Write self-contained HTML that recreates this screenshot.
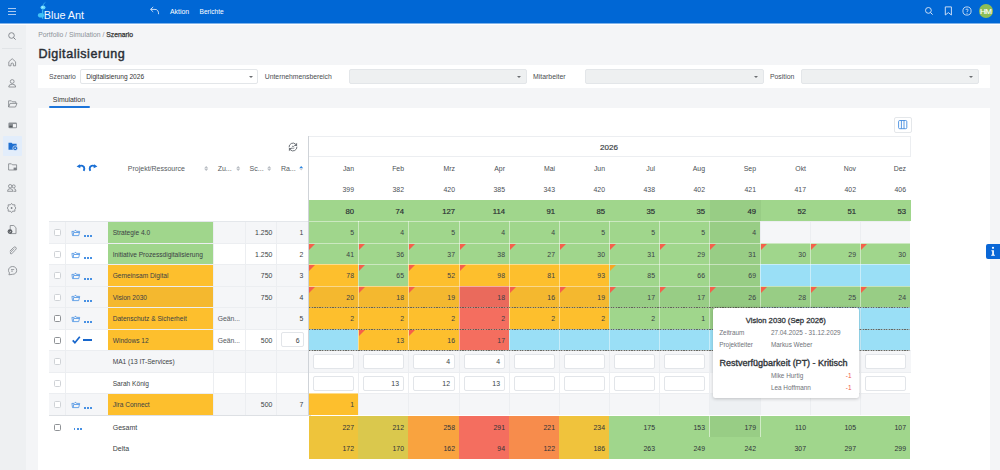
<!DOCTYPE html><html><head><meta charset="utf-8"><style>
*{margin:0;padding:0;box-sizing:border-box}
html,body{width:1000px;height:470px;overflow:hidden}
body{background:#f4f5f7;font-family:"Liberation Sans",sans-serif;color:#333;position:relative}
.a{position:absolute}
.t{position:absolute;white-space:nowrap;line-height:1}
.flag{position:absolute;width:0;height:0;border-top:6px solid #f5604b;border-right:6px solid transparent}
.inp{position:absolute;background:#fff;border:1px solid #e2e5e9;border-radius:2px}
.cb{position:absolute;width:6.8px;height:6.8px;border:1px solid #cfd2d6;border-radius:1.5px;background:#fff}
.cbd{border-color:#8f9296}
svg{position:absolute;overflow:visible}
</style></head><body><div class="a" style="left:0px;top:0px;width:1000px;height:23px;background:#0067d5;"></div>
<div class="a" style="left:0px;top:23px;width:1000px;height:1px;background:#80b3ea;"></div>
<div class="a" style="left:0px;top:24px;width:1000px;height:1px;background:#ffffff;"></div>
<div class="a" style="left:8px;top:7.6px;width:8px;height:0.9px;background:#a9c9f1;"></div>
<div class="a" style="left:8px;top:10.6px;width:8px;height:0.9px;background:#a9c9f1;"></div>
<div class="a" style="left:8px;top:13.6px;width:8px;height:0.9px;background:#a9c9f1;"></div>
<svg style="left:36px;top:1px" width="12" height="20" viewBox="0 0 12 20">
<path d="M7 5.2 C7.2 3.4 7.8 2.2 9.4 1.4" stroke="#3fb6f0" stroke-width="0.7" fill="none"/>
<ellipse cx="7" cy="6.5" rx="2.5" ry="2.1" fill="#63d6fc"/>
<circle cx="6.6" cy="6.2" r="0.9" fill="#a8ecff"/>
<path d="M6.6 8.4 L6.6 17.8" stroke="#3ab5ef" stroke-width="1.3"/>
<ellipse cx="5" cy="14.2" rx="3.1" ry="2.3" fill="#40c0f6"/>
</svg>
<div class="t" style="left:43.8px;top:10px;font-size:10.9px;color:#f4f9ff;letter-spacing:-0.05px">Blue Ant</div>
<svg style="left:149px;top:6px" width="11" height="9" viewBox="0 0 11 9"><path d="M1.6 3.4 H6 C8.6 3.4 9.6 5.2 9.6 8.2 M4.2 0.9 L1.6 3.4 L4.2 5.9" stroke="#dce8f8" stroke-width="0.9" fill="none"/></svg>
<div class="t" style="left:170px;top:9px;font-size:6.9px;color:#fff;">Aktion</div>
<div class="t" style="left:199.5px;top:9px;font-size:6.6px;color:#fff;">Berichte</div>
<svg style="left:924px;top:6px" width="10" height="10" viewBox="0 0 10 10"><circle cx="4.4" cy="4.4" r="2.9" stroke="#dfe9f7" stroke-width="0.9" fill="none"/><path d="M6.5 6.5 L8.6 8.6" stroke="#dfe9f7" stroke-width="1"/></svg>
<svg style="left:944px;top:6px" width="9" height="10" viewBox="0 0 9 10"><path d="M1.3 0.9 H7.4 V9 L4.35 6.6 L1.3 9 Z" stroke="#dfe9f7" stroke-width="0.9" fill="none" stroke-linejoin="round"/></svg>
<svg style="left:962px;top:6px" width="10" height="10" viewBox="0 0 10 10"><circle cx="5" cy="5" r="4.1" stroke="#dfe9f7" stroke-width="0.85" fill="none"/><path d="M3.8 4 C3.8 2.7 6.2 2.7 6.2 4 C6.2 4.9 5 5 5 6" stroke="#dfe9f7" stroke-width="0.8" fill="none"/><circle cx="5" cy="7.3" r="0.5" fill="#dfe9f7"/></svg>
<div class="a" style="left:978.8px;top:3.8px;width:14.4px;height:14.4px;border-radius:50%;background:#8dbd57"></div>
<div class="t" style="left:978.4px;top:8px;font-size:8.1px;color:#fff;width:14.4px;text-align:center;letter-spacing:-0.7px;-webkit-text-stroke:0.15px #fff">HM</div>
<div class="a" style="left:0px;top:25px;width:26px;height:445px;background:#eef0f2;"></div>
<div class="a" style="left:2px;top:48px;width:20px;height:1px;background:#e1e4e7;"></div>
<div class="a" style="left:2.7px;top:136.2px;width:19px;height:19.4px;background:#e2edfb;border-radius:1px"></div>
<svg style="left:8.1px;top:32.2px" width="10" height="10" viewBox="0 0 10 10"><circle cx="3.5" cy="3.5" r="2.8" stroke="#7d8187" stroke-width="0.9" fill="none"/><path d="M5.5 5.5 L7.6 7.6" stroke="#7d8187" stroke-width="1"/></svg>
<svg style="left:7.7px;top:58px" width="10" height="10" viewBox="0 0 10 10"><path d="M0.8 3.8 L4.2 0.7 L7.6 3.8 V7.8 H5.4 V5.6 Q4.2 4.4 3 5.6 V7.8 H0.8 Z" stroke="#7d8187" stroke-width="0.8" fill="none" stroke-linejoin="round"/></svg>
<svg style="left:7.7px;top:78.8px" width="10" height="10" viewBox="0 0 10 10"><circle cx="4.2" cy="2.5" r="1.9" stroke="#7d8187" stroke-width="0.8" fill="none"/><path d="M0.7 8 Q0.7 5.2 4.2 5.2 Q7.7 5.2 7.7 8 Z" stroke="#7d8187" stroke-width="0.8" fill="none"/></svg>
<svg style="left:7.5px;top:100.4px" width="10" height="10" viewBox="0 0 10 10"><path d="M0.6 7 V0.8 H3.4 L4.4 1.8 H7.8 V3.2 M0.6 7 L2.1 3.4 H9 L7.5 7 Z" stroke="#7d8187" stroke-width="0.8" fill="none" stroke-linejoin="round"/></svg>
<svg style="left:7.6px;top:121.6px" width="10" height="10" viewBox="0 0 10 10"><rect x="0.4" y="0.4" width="8.6" height="5.8" rx="1.3" fill="#8d9196"/><rect x="5" y="2.1" width="3.1" height="3.2" fill="#f4f5f7"/><rect x="1.3" y="3.7" width="3" height="1.6" fill="#55595e"/></svg>
<svg style="left:7.5px;top:141.9px" width="10" height="10" viewBox="0 0 10 10"><path d="M0.5 0.8 H3.6 L4.5 1.8 H8.6 V7.8 H0.5 Z" fill="#1f6fd0"/><circle cx="7.2" cy="6.2" r="2.4" fill="#1f6fd0" stroke="#e2edfb" stroke-width="0.7"/><circle cx="7.2" cy="6.2" r="0.8" fill="#e2edfb"/></svg>
<svg style="left:7.7px;top:163.2px" width="10" height="10" viewBox="0 0 10 10"><path d="M0.6 7 V0.8 H3.4 L4.4 1.8 H8.6 V7 Z" stroke="#7d8187" stroke-width="0.8" fill="none" stroke-linejoin="round"/><rect x="5.6" y="4.6" width="3" height="2.4" fill="#7d8187"/></svg>
<svg style="left:7.2px;top:184px" width="10" height="10" viewBox="0 0 10 10"><circle cx="3.2" cy="2.2" r="1.7" stroke="#7d8187" stroke-width="0.8" fill="none"/><path d="M0.5 7.3 Q0.5 4.7 3.2 4.7 Q5.9 4.7 5.9 7.3 Z" stroke="#7d8187" stroke-width="0.8" fill="none"/><circle cx="6.7" cy="2.4" r="1.5" stroke="#7d8187" stroke-width="0.8" fill="none"/><path d="M7 4.7 Q9 4.8 9 7.3 H6.5" stroke="#7d8187" stroke-width="0.8" fill="none"/></svg>
<svg style="left:7.2px;top:203.4px" width="10" height="10" viewBox="0 0 10 10"><path d="M4.6 0.4 L5.6 1.8 L7.9 1.8 L7.9 3.8 L9 5 L7.9 6.2 L7.9 8.2 L5.6 8.2 L4.6 9.6 L3.4 8.2 L1.2 8.2 L1.2 6.2 L0.2 5 L1.2 3.8 L1.2 1.8 L3.4 1.8 Z" stroke="#7d8187" stroke-width="0.8" fill="none" stroke-linejoin="round"/><circle cx="4.6" cy="5" r="0.9" fill="#7d8187"/></svg>
<svg style="left:6.7px;top:225px" width="10" height="10" viewBox="0 0 10 10"><path d="M3.2 0.5 H6.8 L9 2.7 V8.6 H3.2 Z" stroke="#7d8187" stroke-width="0.8" fill="none" stroke-linejoin="round"/><circle cx="3" cy="6.6" r="2.4" fill="#5a5e63"/><path d="M2 6.6 L2.8 7.4 L4.1 5.9" stroke="#fff" stroke-width="0.6" fill="none"/></svg>
<svg style="left:8.2px;top:246.3px" width="10" height="10" viewBox="0 0 10 10"><path d="M6.2 2.6 L2.8 6 Q1.8 7 2.5 7.6 Q3.2 8.2 4.2 7.2 L7.6 3.8 Q8.9 2.5 7.8 1.3 Q6.7 0.3 5.4 1.6 L1.8 5.2" stroke="#7d8187" stroke-width="0.8" fill="none"/></svg>
<svg style="left:7.5px;top:266.4px" width="10" height="10" viewBox="0 0 10 10"><path d="M4.6 0.5 C7 0.5 8.7 2.2 8.7 4.4 C8.7 6.6 7 8.3 4.6 8.3 L0.9 8.8 L1.5 6.9 C0.8 6.2 0.5 5.3 0.5 4.4 C0.5 2.2 2.2 0.5 4.6 0.5 Z" stroke="#7d8187" stroke-width="0.8" fill="none"/><path d="M3 3.5 H6.2 M3 5.1 H5" stroke="#7d8187" stroke-width="0.7"/></svg>
<div class="t" style="left:38.3px;top:32px;font-size:6.8px;color:#8d9298;">Portfolio / Simulation / <span style="color:#333;-webkit-text-stroke:0.25px #333">Szenario</span></div>
<div class="t" style="left:38.4px;top:48px;font-size:12.5px;color:#2a2e35;letter-spacing:0.55px;-webkit-text-stroke:0.45px #2a2e35">Digitalisierung</div>
<div class="a" style="left:38px;top:65px;width:952px;height:23px;background:#fff;"></div>
<div class="t" style="left:49px;top:74px;font-size:6.8px;color:#4a4d52;">Szenario</div>
<div class="a" style="left:80.2px;top:69.3px;width:178.3px;height:14.6px;background:#fff;border:1px solid #e3e6e9;border-radius:2px"></div>
<div class="a" style="left:248.7px;top:75.6px;width:0;height:0;border-left:2.2px solid transparent;border-right:2.2px solid transparent;border-top:2.2px solid #6a6d71"></div>
<div class="t" style="left:86.2px;top:74px;font-size:6.6px;color:#333;">Digitalisierung 2026</div>
<div class="t" style="left:264.8px;top:74px;font-size:6.8px;color:#4a4d52;">Unternehmensbereich</div>
<div class="a" style="left:349px;top:69.3px;width:178px;height:14.6px;background:#eef0f1;border:1px solid #e3e6e9;border-radius:2px"></div>
<div class="a" style="left:517.2px;top:75.6px;width:0;height:0;border-left:2.2px solid transparent;border-right:2.2px solid transparent;border-top:2.2px solid #6a6d71"></div>
<div class="t" style="left:533px;top:74px;font-size:6.9px;color:#4a4d52;">Mitarbeiter</div>
<div class="a" style="left:585px;top:69.3px;width:178.79999999999995px;height:14.6px;background:#eef0f1;border:1px solid #e3e6e9;border-radius:2px"></div>
<div class="a" style="left:754.0px;top:75.6px;width:0;height:0;border-left:2.2px solid transparent;border-right:2.2px solid transparent;border-top:2.2px solid #6a6d71"></div>
<div class="t" style="left:769.9px;top:74px;font-size:6.9px;color:#4a4d52;">Position</div>
<div class="a" style="left:801px;top:69.3px;width:178px;height:14.6px;background:#eef0f1;border:1px solid #e3e6e9;border-radius:2px"></div>
<div class="a" style="left:969.2px;top:75.6px;width:0;height:0;border-left:2.2px solid transparent;border-right:2.2px solid transparent;border-top:2.2px solid #6a6d71"></div>
<div class="t" style="left:52.8px;top:97px;font-size:6.9px;color:#333;">Simulation</div>
<div class="a" style="left:48.9px;top:106px;width:40.7px;height:2px;background:#1b74da;border-radius:1px"></div>
<div class="a" style="left:38px;top:107.6px;width:952px;height:363px;background:#fff;"></div>
<div class="a" style="left:986px;top:244px;width:14px;height:14.6px;background:#0a67d6;border-radius:2px 0 0 2px"></div>
<svg style="left:989px;top:246px" width="8" height="11" viewBox="0 0 8 11"><circle cx="4" cy="1.8" r="1.1" fill="#fff"/><path d="M2.4 4.2 H4.9 V8.8 H5.9 V9.8 H2.2 V8.8 H3.2 V5.2 H2.4 Z" fill="#fff"/></svg>
<div class="a" style="left:894px;top:117.2px;width:17.6px;height:15.4px;border:1px solid #e4e7ea;border-radius:2px;background:#fff"></div>
<svg style="left:897.8px;top:120.2px" width="10" height="10" viewBox="0 0 10 10"><rect x="0.6" y="0.5" width="8.2" height="8.2" rx="1.1" stroke="#3a86de" stroke-width="0.85" fill="none"/><path d="M3.4 0.5 V8.7 M6 0.5 V8.7" stroke="#3a86de" stroke-width="0.85"/></svg>
<svg style="left:287.8px;top:141.6px" width="10" height="10" viewBox="0 0 10 10"><path d="M1.1 5.3 A3.9 3.9 0 0 1 7.6 2.1 M8.9 4.7 A3.9 3.9 0 0 1 2.4 7.9" stroke="#6f747a" stroke-width="1" fill="none"/><path d="M9.1 0.7 V4.1 H5.7 Z M0.9 9.3 V5.9 H4.3 Z" fill="#6f747a"/><path d="M3.7 5.2 L5 3.9 L6.3 5.2" stroke="#6f747a" stroke-width="0.8" fill="none"/><path d="M3.8 6.2 H6.2" stroke="#6f747a" stroke-width="0.8"/></svg>
<div class="a" style="left:308px;top:136px;width:603px;height:1px;background:#eceef1;"></div>
<div class="a" style="left:910px;top:136px;width:1px;height:21px;background:#eceef1;"></div>
<div class="a" style="left:309px;top:156px;width:602px;height:1px;background:#eceef1;"></div>
<div class="a" style="left:308px;top:136px;width:1.2px;height:280px;background:#cfd3d8;"></div>
<div class="t" style="left:308px;top:144px;font-size:8.0px;color:#3a3e43;width:602px;text-align:center;-webkit-text-stroke:0.18px #3a3e43">2026</div>
<div class="t" style="left:308px;top:166px;font-size:6.9px;color:#4b4f55;width:46.0px;text-align:right;">Jan</div>
<div class="t" style="left:308px;top:187px;font-size:6.9px;color:#4b4f55;width:46.0px;text-align:right;">399</div>
<div class="t" style="left:358px;top:166px;font-size:6.9px;color:#4b4f55;width:46.0px;text-align:right;">Feb</div>
<div class="t" style="left:358px;top:187px;font-size:6.9px;color:#4b4f55;width:46.0px;text-align:right;">382</div>
<div class="t" style="left:408px;top:166px;font-size:6.9px;color:#4b4f55;width:47.0px;text-align:right;">Mrz</div>
<div class="t" style="left:408px;top:187px;font-size:6.9px;color:#4b4f55;width:47.0px;text-align:right;">420</div>
<div class="t" style="left:459px;top:166px;font-size:6.9px;color:#4b4f55;width:46.0px;text-align:right;">Apr</div>
<div class="t" style="left:459px;top:187px;font-size:6.9px;color:#4b4f55;width:46.0px;text-align:right;">385</div>
<div class="t" style="left:509px;top:166px;font-size:6.9px;color:#4b4f55;width:46.0px;text-align:right;">Mai</div>
<div class="t" style="left:509px;top:187px;font-size:6.9px;color:#4b4f55;width:46.0px;text-align:right;">343</div>
<div class="t" style="left:559px;top:166px;font-size:6.9px;color:#4b4f55;width:46.0px;text-align:right;">Jun</div>
<div class="t" style="left:559px;top:187px;font-size:6.9px;color:#4b4f55;width:46.0px;text-align:right;">420</div>
<div class="t" style="left:609px;top:166px;font-size:6.9px;color:#4b4f55;width:46.0px;text-align:right;">Jul</div>
<div class="t" style="left:609px;top:187px;font-size:6.9px;color:#4b4f55;width:46.0px;text-align:right;">438</div>
<div class="t" style="left:659px;top:166px;font-size:6.9px;color:#4b4f55;width:46.0px;text-align:right;">Aug</div>
<div class="t" style="left:659px;top:187px;font-size:6.9px;color:#4b4f55;width:46.0px;text-align:right;">402</div>
<div class="t" style="left:709px;top:166px;font-size:6.9px;color:#4b4f55;width:47.0px;text-align:right;">Sep</div>
<div class="t" style="left:709px;top:187px;font-size:6.9px;color:#4b4f55;width:47.0px;text-align:right;">421</div>
<div class="t" style="left:760px;top:166px;font-size:6.9px;color:#4b4f55;width:46.0px;text-align:right;">Okt</div>
<div class="t" style="left:760px;top:187px;font-size:6.9px;color:#4b4f55;width:46.0px;text-align:right;">417</div>
<div class="t" style="left:810px;top:166px;font-size:6.9px;color:#4b4f55;width:46.0px;text-align:right;">Nov</div>
<div class="t" style="left:810px;top:187px;font-size:6.9px;color:#4b4f55;width:46.0px;text-align:right;">402</div>
<div class="t" style="left:860px;top:166px;font-size:6.9px;color:#4b4f55;width:46.0px;text-align:right;">Dez</div>
<div class="t" style="left:860px;top:187px;font-size:6.9px;color:#4b4f55;width:46.0px;text-align:right;">406</div>
<div class="a" style="left:309px;top:200px;width:602px;height:21px;background:#a0d68c;"></div>
<div class="a" style="left:710px;top:200px;width:51px;height:21px;background:#98cd85;"></div>
<div class="t" style="left:308px;top:208px;font-size:7.7px;color:#2a2e33;width:46.0px;text-align:right;-webkit-text-stroke:0.18px #2a2e33">80</div>
<div class="t" style="left:358px;top:208px;font-size:7.7px;color:#2a2e33;width:46.0px;text-align:right;-webkit-text-stroke:0.18px #2a2e33">74</div>
<div class="t" style="left:408px;top:208px;font-size:7.7px;color:#2a2e33;width:47.0px;text-align:right;-webkit-text-stroke:0.18px #2a2e33">127</div>
<div class="t" style="left:459px;top:208px;font-size:7.7px;color:#2a2e33;width:46.0px;text-align:right;-webkit-text-stroke:0.18px #2a2e33">114</div>
<div class="t" style="left:509px;top:208px;font-size:7.7px;color:#2a2e33;width:46.0px;text-align:right;-webkit-text-stroke:0.18px #2a2e33">91</div>
<div class="t" style="left:559px;top:208px;font-size:7.7px;color:#2a2e33;width:46.0px;text-align:right;-webkit-text-stroke:0.18px #2a2e33">85</div>
<div class="t" style="left:609px;top:208px;font-size:7.7px;color:#2a2e33;width:46.0px;text-align:right;-webkit-text-stroke:0.18px #2a2e33">35</div>
<div class="t" style="left:659px;top:208px;font-size:7.7px;color:#2a2e33;width:46.0px;text-align:right;-webkit-text-stroke:0.18px #2a2e33">35</div>
<div class="t" style="left:709px;top:208px;font-size:7.7px;color:#2a2e33;width:47.0px;text-align:right;-webkit-text-stroke:0.18px #2a2e33">49</div>
<div class="t" style="left:760px;top:208px;font-size:7.7px;color:#2a2e33;width:46.0px;text-align:right;-webkit-text-stroke:0.18px #2a2e33">52</div>
<div class="t" style="left:810px;top:208px;font-size:7.7px;color:#2a2e33;width:46.0px;text-align:right;-webkit-text-stroke:0.18px #2a2e33">51</div>
<div class="t" style="left:860px;top:208px;font-size:7.7px;color:#2a2e33;width:46.0px;text-align:right;-webkit-text-stroke:0.18px #2a2e33">53</div>
<svg style="left:76px;top:163px" width="22" height="9" viewBox="0 0 22 9"><path d="M3.2 3.1 C5.2 2.1 8.3 2.6 8.3 5.6 C8.3 6.5 8 7.2 7.7 7.8" stroke="#1a6fd4" stroke-width="1.9" fill="none"/><path d="M0.6 3.6 L3.8 1.3 L4.4 5.2 Z" fill="#1a6fd4"/><path d="M18.8 3.1 C16.8 2.1 13.7 2.6 13.7 5.6 C13.7 6.5 14 7.2 14.3 7.8" stroke="#1a6fd4" stroke-width="1.9" fill="none"/><path d="M21.4 3.6 L18.2 1.3 L17.6 5.2 Z" fill="#1a6fd4"/></svg>
<div class="t" style="left:127.8px;top:165px;font-size:7.0px;color:#555a60;">Projekt/Ressource</div>
<svg style="left:204.20000000000002px;top:166.2px" width="5" height="5" viewBox="0 0 5 5"><path d="M0.2 2.2 L2.2 0 L4.2 2.2 Z M0.2 2.8 L2.2 5 L4.2 2.8 Z" fill="#b9bec4"/></svg>
<svg style="left:235.8px;top:166.2px" width="5" height="5" viewBox="0 0 5 5"><path d="M0.2 2.2 L2.2 0 L4.2 2.2 Z M0.2 2.8 L2.2 5 L4.2 2.8 Z" fill="#b9bec4"/></svg>
<svg style="left:267.2px;top:166.2px" width="5" height="5" viewBox="0 0 5 5"><path d="M0.2 2.2 L2.2 0 L4.2 2.2 Z M0.2 2.8 L2.2 5 L4.2 2.8 Z" fill="#b9bec4"/></svg>
<svg style="left:299.1px;top:166.2px" width="5" height="5" viewBox="0 0 5 5"><path d="M0.2 2.2 L2.2 0 L4.2 2.2 Z" fill="#2a84e0"/><path d="M0.6 2.8 L2.2 4.4 L3.8 2.8 Z" fill="#c9cdd2"/></svg>
<div class="t" style="left:217.7px;top:165px;font-size:7.0px;color:#555a60;">Zu...</div>
<div class="t" style="left:249.6px;top:165px;font-size:7.0px;color:#555a60;">Sc...</div>
<div class="t" style="left:280.9px;top:165px;font-size:7.0px;color:#555a60;">Ra...</div>
<div class="a" style="left:49px;top:221px;width:259px;height:1px;background:#e4e7eb;"></div>
<div class="a" style="left:49px;top:222px;width:259px;height:21px;background:#f5f6f8;"></div>
<div class="a" style="left:65px;top:222px;width:1px;height:21px;background:#eceef1;"></div>
<div class="a" style="left:213px;top:222px;width:1px;height:21px;background:#eceef1;"></div>
<div class="a" style="left:245px;top:222px;width:1px;height:21px;background:#eceef1;"></div>
<div class="a" style="left:276px;top:222px;width:1px;height:21px;background:#eceef1;"></div>
<div class="a" style="left:108px;top:222px;width:105px;height:21px;background:#a0d68c;"></div>
<div class="t" style="left:112.7px;top:230px;font-size:6.6px;color:#3b3f45;">Strategie 4.0</div>
<div class="t" style="left:245px;top:230px;font-size:6.9px;color:#3b3f45;width:27.3px;text-align:right;">1.250</div>
<div class="t" style="left:277px;top:230px;font-size:6.9px;color:#3b3f45;width:26.3px;text-align:right;">1</div>
<div class="cb" style="left:54.3px;top:229.1px"></div>
<svg style="left:69px;top:227px" width="14" height="11" viewBox="0 0 14 11"><path d="M2.9 4.4 H5.2 L6 3.4 H6.9 L7.5 4.4 H10.7 L9.7 8.6 H3.5 Z M4.3 8.4 L4.6 5.5 H10.3" stroke="#4790e3" stroke-width="0.8" fill="none" stroke-linejoin="round"/></svg>
<div class="a" style="left:84.0px;top:234.9px;width:1.8px;height:1.9px;background:#4790e3;"></div>
<div class="a" style="left:87.15px;top:234.9px;width:1.8px;height:1.9px;background:#4790e3;"></div>
<div class="a" style="left:90.3px;top:234.9px;width:1.8px;height:1.9px;background:#4790e3;"></div>
<div class="a" style="left:49px;top:243px;width:259px;height:1px;background:#eceef1;"></div>
<div class="a" style="left:49px;top:244px;width:259px;height:20px;background:#fff;"></div>
<div class="a" style="left:65px;top:244px;width:1px;height:20px;background:#eceef1;"></div>
<div class="a" style="left:213px;top:244px;width:1px;height:20px;background:#eceef1;"></div>
<div class="a" style="left:245px;top:244px;width:1px;height:20px;background:#eceef1;"></div>
<div class="a" style="left:276px;top:244px;width:1px;height:20px;background:#eceef1;"></div>
<div class="a" style="left:108px;top:244px;width:105px;height:20px;background:#a0d68c;"></div>
<div class="t" style="left:112.7px;top:252px;font-size:6.6px;color:#3b3f45;">Initiative Prozessdigitalisierung</div>
<div class="t" style="left:245px;top:252px;font-size:6.9px;color:#3b3f45;width:27.3px;text-align:right;">1.250</div>
<div class="t" style="left:277px;top:252px;font-size:6.9px;color:#3b3f45;width:26.3px;text-align:right;">2</div>
<div class="cb" style="left:54.3px;top:251.1px"></div>
<svg style="left:69px;top:249px" width="14" height="11" viewBox="0 0 14 11"><path d="M2.9 4.4 H5.2 L6 3.4 H6.9 L7.5 4.4 H10.7 L9.7 8.6 H3.5 Z M4.3 8.4 L4.6 5.5 H10.3" stroke="#4790e3" stroke-width="0.8" fill="none" stroke-linejoin="round"/></svg>
<div class="a" style="left:84.0px;top:256.9px;width:1.8px;height:1.9px;background:#4790e3;"></div>
<div class="a" style="left:87.15px;top:256.9px;width:1.8px;height:1.9px;background:#4790e3;"></div>
<div class="a" style="left:90.3px;top:256.9px;width:1.8px;height:1.9px;background:#4790e3;"></div>
<div class="a" style="left:49px;top:264px;width:259px;height:1px;background:#eceef1;"></div>
<div class="a" style="left:49px;top:265px;width:259px;height:21px;background:#f5f6f8;"></div>
<div class="a" style="left:65px;top:265px;width:1px;height:21px;background:#eceef1;"></div>
<div class="a" style="left:213px;top:265px;width:1px;height:21px;background:#eceef1;"></div>
<div class="a" style="left:245px;top:265px;width:1px;height:21px;background:#eceef1;"></div>
<div class="a" style="left:276px;top:265px;width:1px;height:21px;background:#eceef1;"></div>
<div class="a" style="left:108px;top:265px;width:105px;height:21px;background:#fdbf2d;"></div>
<div class="t" style="left:112.7px;top:273px;font-size:6.6px;color:#3b3f45;">Gemeinsam Digital</div>
<div class="t" style="left:245px;top:273px;font-size:6.9px;color:#3b3f45;width:27.3px;text-align:right;">750</div>
<div class="t" style="left:277px;top:273px;font-size:6.9px;color:#3b3f45;width:26.3px;text-align:right;">3</div>
<div class="cb" style="left:54.3px;top:272.1px"></div>
<svg style="left:69px;top:270px" width="14" height="11" viewBox="0 0 14 11"><path d="M2.9 4.4 H5.2 L6 3.4 H6.9 L7.5 4.4 H10.7 L9.7 8.6 H3.5 Z M4.3 8.4 L4.6 5.5 H10.3" stroke="#4790e3" stroke-width="0.8" fill="none" stroke-linejoin="round"/></svg>
<div class="a" style="left:84.0px;top:277.9px;width:1.8px;height:1.9px;background:#4790e3;"></div>
<div class="a" style="left:87.15px;top:277.9px;width:1.8px;height:1.9px;background:#4790e3;"></div>
<div class="a" style="left:90.3px;top:277.9px;width:1.8px;height:1.9px;background:#4790e3;"></div>
<div class="a" style="left:49px;top:286px;width:259px;height:1px;background:#eceef1;"></div>
<div class="a" style="left:49px;top:287px;width:259px;height:20px;background:#f5f6f8;"></div>
<div class="a" style="left:65px;top:287px;width:1px;height:20px;background:#eceef1;"></div>
<div class="a" style="left:213px;top:287px;width:1px;height:20px;background:#eceef1;"></div>
<div class="a" style="left:245px;top:287px;width:1px;height:20px;background:#eceef1;"></div>
<div class="a" style="left:276px;top:287px;width:1px;height:20px;background:#eceef1;"></div>
<div class="a" style="left:108px;top:287px;width:105px;height:20px;background:#f4b82f;"></div>
<div class="t" style="left:112.7px;top:295px;font-size:6.6px;color:#3b3f45;">Vision 2030</div>
<div class="t" style="left:245px;top:295px;font-size:6.9px;color:#3b3f45;width:27.3px;text-align:right;">750</div>
<div class="t" style="left:277px;top:295px;font-size:6.9px;color:#3b3f45;width:26.3px;text-align:right;">4</div>
<div class="cb" style="left:54.3px;top:294.1px"></div>
<svg style="left:69px;top:292px" width="14" height="11" viewBox="0 0 14 11"><path d="M2.9 4.4 H5.2 L6 3.4 H6.9 L7.5 4.4 H10.7 L9.7 8.6 H3.5 Z M4.3 8.4 L4.6 5.5 H10.3" stroke="#4790e3" stroke-width="0.8" fill="none" stroke-linejoin="round"/></svg>
<div class="a" style="left:84.0px;top:299.9px;width:1.8px;height:1.9px;background:#4790e3;"></div>
<div class="a" style="left:87.15px;top:299.9px;width:1.8px;height:1.9px;background:#4790e3;"></div>
<div class="a" style="left:90.3px;top:299.9px;width:1.8px;height:1.9px;background:#4790e3;"></div>
<div class="a" style="left:49px;top:307px;width:259px;height:1px;background:#eceef1;"></div>
<div class="a" style="left:49px;top:308px;width:259px;height:21px;background:#f5f6f8;"></div>
<div class="a" style="left:65px;top:308px;width:1px;height:21px;background:#eceef1;"></div>
<div class="a" style="left:213px;top:308px;width:1px;height:21px;background:#eceef1;"></div>
<div class="a" style="left:245px;top:308px;width:1px;height:21px;background:#eceef1;"></div>
<div class="a" style="left:276px;top:308px;width:1px;height:21px;background:#eceef1;"></div>
<div class="a" style="left:108px;top:308px;width:105px;height:21px;background:#fdbf2d;"></div>
<div class="t" style="left:112.7px;top:316px;font-size:6.6px;color:#3b3f45;">Datenschutz &amp; Sicherheit</div>
<div class="t" style="left:217.7px;top:316px;font-size:6.8px;color:#555a60;">Geän...</div>
<div class="t" style="left:277px;top:316px;font-size:6.9px;color:#3b3f45;width:26.3px;text-align:right;">5</div>
<div class="cb cbd" style="left:54.3px;top:315.1px"></div>
<svg style="left:69px;top:313px" width="14" height="11" viewBox="0 0 14 11"><path d="M2.9 4.4 H5.2 L6 3.4 H6.9 L7.5 4.4 H10.7 L9.7 8.6 H3.5 Z M4.3 8.4 L4.6 5.5 H10.3" stroke="#4790e3" stroke-width="0.8" fill="none" stroke-linejoin="round"/></svg>
<div class="a" style="left:84.0px;top:320.9px;width:1.8px;height:1.9px;background:#4790e3;"></div>
<div class="a" style="left:87.15px;top:320.9px;width:1.8px;height:1.9px;background:#4790e3;"></div>
<div class="a" style="left:90.3px;top:320.9px;width:1.8px;height:1.9px;background:#4790e3;"></div>
<div class="a" style="left:49px;top:329px;width:259px;height:1px;background:#eceef1;"></div>
<div class="a" style="left:49px;top:330px;width:259px;height:20px;background:#fff;"></div>
<div class="a" style="left:65px;top:330px;width:1px;height:20px;background:#eceef1;"></div>
<div class="a" style="left:213px;top:330px;width:1px;height:20px;background:#eceef1;"></div>
<div class="a" style="left:245px;top:330px;width:1px;height:20px;background:#eceef1;"></div>
<div class="a" style="left:276px;top:330px;width:1px;height:20px;background:#eceef1;"></div>
<div class="a" style="left:108px;top:330px;width:105px;height:20px;background:#fdbf2d;"></div>
<div class="t" style="left:112.7px;top:338px;font-size:6.6px;color:#3b3f45;">Windows 12</div>
<div class="t" style="left:217.7px;top:338px;font-size:6.8px;color:#555a60;">Geän...</div>
<div class="t" style="left:245px;top:338px;font-size:6.9px;color:#3b3f45;width:27.3px;text-align:right;">500</div>
<div class="inp" style="left:281px;top:332px;width:22.8px;height:15.4px"></div>
<div class="t" style="left:280px;top:338px;font-size:6.9px;color:#3b3f45;width:19.5px;text-align:right;">6</div>
<div class="cb cbd" style="left:54.3px;top:337.1px"></div>
<svg style="left:72px;top:336px" width="8.5" height="8" viewBox="0 0 8.5 8"><path d="M0.7 4.4 L2.9 6.7 L7.8 0.8" stroke="#1766cc" stroke-width="1.7" fill="none"/></svg>
<div class="a" style="left:83px;top:339.2px;width:8.6px;height:2.1px;background:#1766cc;"></div>
<div class="a" style="left:49px;top:350px;width:259px;height:1px;background:#eceef1;"></div>
<div class="a" style="left:49px;top:351px;width:259px;height:21px;background:#f5f6f8;"></div>
<div class="a" style="left:65px;top:351px;width:1px;height:21px;background:#eceef1;"></div>
<div class="a" style="left:213px;top:351px;width:1px;height:21px;background:#eceef1;"></div>
<div class="a" style="left:245px;top:351px;width:1px;height:21px;background:#eceef1;"></div>
<div class="a" style="left:276px;top:351px;width:1px;height:21px;background:#eceef1;"></div>
<div class="t" style="left:112.7px;top:359px;font-size:6.6px;color:#3b3f45;">MA1 (13 IT-Services)</div>
<div class="cb" style="left:54.3px;top:358.1px"></div>
<div class="a" style="left:49px;top:372px;width:259px;height:1px;background:#eceef1;"></div>
<div class="a" style="left:49px;top:373px;width:259px;height:20px;background:#fff;"></div>
<div class="a" style="left:65px;top:373px;width:1px;height:20px;background:#eceef1;"></div>
<div class="a" style="left:213px;top:373px;width:1px;height:20px;background:#eceef1;"></div>
<div class="a" style="left:245px;top:373px;width:1px;height:20px;background:#eceef1;"></div>
<div class="a" style="left:276px;top:373px;width:1px;height:20px;background:#eceef1;"></div>
<div class="t" style="left:112.7px;top:381px;font-size:6.6px;color:#3b3f45;">Sarah König</div>
<div class="cb" style="left:54.3px;top:380.1px"></div>
<div class="a" style="left:49px;top:393px;width:259px;height:1px;background:#eceef1;"></div>
<div class="a" style="left:49px;top:394px;width:259px;height:21px;background:#f5f6f8;"></div>
<div class="a" style="left:65px;top:394px;width:1px;height:21px;background:#eceef1;"></div>
<div class="a" style="left:213px;top:394px;width:1px;height:21px;background:#eceef1;"></div>
<div class="a" style="left:245px;top:394px;width:1px;height:21px;background:#eceef1;"></div>
<div class="a" style="left:276px;top:394px;width:1px;height:21px;background:#eceef1;"></div>
<div class="a" style="left:108px;top:394px;width:105px;height:21px;background:#fdbf2d;"></div>
<div class="t" style="left:112.7px;top:402px;font-size:6.6px;color:#3b3f45;">Jira Connect</div>
<div class="t" style="left:245px;top:402px;font-size:6.9px;color:#3b3f45;width:27.3px;text-align:right;">500</div>
<div class="t" style="left:277px;top:402px;font-size:6.9px;color:#3b3f45;width:26.3px;text-align:right;">7</div>
<div class="cb" style="left:54.3px;top:401.1px"></div>
<svg style="left:69px;top:399px" width="14" height="11" viewBox="0 0 14 11"><path d="M2.9 4.4 H5.2 L6 3.4 H6.9 L7.5 4.4 H10.7 L9.7 8.6 H3.5 Z M4.3 8.4 L4.6 5.5 H10.3" stroke="#4790e3" stroke-width="0.8" fill="none" stroke-linejoin="round"/></svg>
<div class="a" style="left:84.0px;top:406.9px;width:1.8px;height:1.9px;background:#4790e3;"></div>
<div class="a" style="left:87.15px;top:406.9px;width:1.8px;height:1.9px;background:#4790e3;"></div>
<div class="a" style="left:90.3px;top:406.9px;width:1.8px;height:1.9px;background:#4790e3;"></div>
<div class="a" style="left:49px;top:415px;width:262px;height:1.4px;background:#dde0e4;"></div>
<div class="cb cbd" style="left:54.3px;top:423.8px"></div>
<div class="a" style="left:73.6px;top:428.3px;width:1.8px;height:1.9px;background:#4790e3;"></div>
<div class="a" style="left:76.75px;top:428.3px;width:1.8px;height:1.9px;background:#4790e3;"></div>
<div class="a" style="left:79.89999999999999px;top:428.3px;width:1.8px;height:1.9px;background:#4790e3;"></div>
<div class="t" style="left:112.7px;top:424px;font-size:7.0px;color:#3b3f45;">Gesamt</div>
<div class="t" style="left:112.7px;top:445px;font-size:7.0px;color:#3b3f45;">Delta</div>
<div class="a" style="left:309px;top:221px;width:49px;height:22px;background:#a0d68c;"></div>
<div class="t" style="left:308px;top:230px;font-size:6.9px;color:#3b3f45;width:46px;text-align:right;">5</div>
<div class="a" style="left:358px;top:221px;width:50px;height:22px;background:#a0d68c;"></div>
<div class="t" style="left:358px;top:230px;font-size:6.9px;color:#3b3f45;width:46px;text-align:right;">4</div>
<div class="a" style="left:408px;top:221px;width:51px;height:22px;background:#a0d68c;"></div>
<div class="t" style="left:408px;top:230px;font-size:6.9px;color:#3b3f45;width:47px;text-align:right;">5</div>
<div class="a" style="left:459px;top:221px;width:50px;height:22px;background:#a0d68c;"></div>
<div class="t" style="left:459px;top:230px;font-size:6.9px;color:#3b3f45;width:46px;text-align:right;">4</div>
<div class="a" style="left:509px;top:221px;width:50px;height:22px;background:#a0d68c;"></div>
<div class="t" style="left:509px;top:230px;font-size:6.9px;color:#3b3f45;width:46px;text-align:right;">4</div>
<div class="a" style="left:559px;top:221px;width:50px;height:22px;background:#a0d68c;"></div>
<div class="t" style="left:559px;top:230px;font-size:6.9px;color:#3b3f45;width:46px;text-align:right;">5</div>
<div class="a" style="left:609px;top:221px;width:50px;height:22px;background:#a0d68c;"></div>
<div class="t" style="left:609px;top:230px;font-size:6.9px;color:#3b3f45;width:46px;text-align:right;">5</div>
<div class="a" style="left:659px;top:221px;width:50px;height:22px;background:#a0d68c;"></div>
<div class="t" style="left:659px;top:230px;font-size:6.9px;color:#3b3f45;width:46px;text-align:right;">5</div>
<div class="a" style="left:709px;top:221px;width:51px;height:22px;background:#98cd85;"></div>
<div class="t" style="left:709px;top:230px;font-size:6.9px;color:#3b3f45;width:47px;text-align:right;">4</div>
<div class="a" style="left:760px;top:221px;width:50px;height:22px;background:#f5f6f8;"></div>
<div class="a" style="left:810px;top:221px;width:50px;height:22px;background:#f5f6f8;"></div>
<div class="a" style="left:860px;top:221px;width:50px;height:22px;background:#f5f6f8;"></div>
<div class="a" style="left:309px;top:243px;width:49px;height:21px;background:#a0d68c;"></div>
<div class="flag" style="left:309px;top:244px;border-top-color:#f5604b"></div>
<div class="t" style="left:308px;top:252px;font-size:6.9px;color:#3b3f45;width:46px;text-align:right;">41</div>
<div class="a" style="left:358px;top:243px;width:50px;height:21px;background:#a0d68c;"></div>
<div class="flag" style="left:359px;top:244px;border-top-color:#f5604b"></div>
<div class="t" style="left:358px;top:252px;font-size:6.9px;color:#3b3f45;width:46px;text-align:right;">36</div>
<div class="a" style="left:408px;top:243px;width:51px;height:21px;background:#a0d68c;"></div>
<div class="flag" style="left:409px;top:244px;border-top-color:#f5604b"></div>
<div class="t" style="left:408px;top:252px;font-size:6.9px;color:#3b3f45;width:47px;text-align:right;">37</div>
<div class="a" style="left:459px;top:243px;width:50px;height:21px;background:#a0d68c;"></div>
<div class="flag" style="left:460px;top:244px;border-top-color:#f5604b"></div>
<div class="t" style="left:459px;top:252px;font-size:6.9px;color:#3b3f45;width:46px;text-align:right;">38</div>
<div class="a" style="left:509px;top:243px;width:50px;height:21px;background:#a0d68c;"></div>
<div class="flag" style="left:510px;top:244px;border-top-color:#f5604b"></div>
<div class="t" style="left:509px;top:252px;font-size:6.9px;color:#3b3f45;width:46px;text-align:right;">27</div>
<div class="a" style="left:559px;top:243px;width:50px;height:21px;background:#a0d68c;"></div>
<div class="flag" style="left:560px;top:244px;border-top-color:#f5604b"></div>
<div class="t" style="left:559px;top:252px;font-size:6.9px;color:#3b3f45;width:46px;text-align:right;">30</div>
<div class="a" style="left:609px;top:243px;width:50px;height:21px;background:#a0d68c;"></div>
<div class="flag" style="left:610px;top:244px;border-top-color:#f5604b"></div>
<div class="t" style="left:609px;top:252px;font-size:6.9px;color:#3b3f45;width:46px;text-align:right;">31</div>
<div class="a" style="left:659px;top:243px;width:50px;height:21px;background:#a0d68c;"></div>
<div class="flag" style="left:660px;top:244px;border-top-color:#f5604b"></div>
<div class="t" style="left:659px;top:252px;font-size:6.9px;color:#3b3f45;width:46px;text-align:right;">29</div>
<div class="a" style="left:709px;top:243px;width:51px;height:21px;background:#98cd85;"></div>
<div class="flag" style="left:710px;top:244px;border-top-color:#f5604b"></div>
<div class="t" style="left:709px;top:252px;font-size:6.9px;color:#3b3f45;width:47px;text-align:right;">31</div>
<div class="a" style="left:760px;top:243px;width:50px;height:21px;background:#a0d68c;"></div>
<div class="flag" style="left:761px;top:244px;border-top-color:#f5604b"></div>
<div class="t" style="left:760px;top:252px;font-size:6.9px;color:#3b3f45;width:46px;text-align:right;">30</div>
<div class="a" style="left:810px;top:243px;width:50px;height:21px;background:#a0d68c;"></div>
<div class="flag" style="left:811px;top:244px;border-top-color:#f5604b"></div>
<div class="t" style="left:810px;top:252px;font-size:6.9px;color:#3b3f45;width:46px;text-align:right;">29</div>
<div class="a" style="left:860px;top:243px;width:50px;height:21px;background:#a0d68c;"></div>
<div class="flag" style="left:861px;top:244px;border-top-color:#f5604b"></div>
<div class="t" style="left:860px;top:252px;font-size:6.9px;color:#3b3f45;width:46px;text-align:right;">30</div>
<div class="a" style="left:309px;top:264px;width:49px;height:22px;background:#fdbf2d;"></div>
<div class="flag" style="left:309px;top:265px;border-top-color:#f5604b"></div>
<div class="t" style="left:308px;top:273px;font-size:6.9px;color:#3b3f45;width:46px;text-align:right;">78</div>
<div class="a" style="left:358px;top:264px;width:50px;height:22px;background:#a0d68c;"></div>
<div class="flag" style="left:359px;top:265px;border-top-color:#f5604b"></div>
<div class="t" style="left:358px;top:273px;font-size:6.9px;color:#3b3f45;width:46px;text-align:right;">65</div>
<div class="a" style="left:408px;top:264px;width:51px;height:22px;background:#fdbf2d;"></div>
<div class="flag" style="left:409px;top:265px;border-top-color:#f5604b"></div>
<div class="t" style="left:408px;top:273px;font-size:6.9px;color:#3b3f45;width:47px;text-align:right;">52</div>
<div class="a" style="left:459px;top:264px;width:50px;height:22px;background:#fdbf2d;"></div>
<div class="flag" style="left:460px;top:265px;border-top-color:#f5604b"></div>
<div class="t" style="left:459px;top:273px;font-size:6.9px;color:#3b3f45;width:46px;text-align:right;">98</div>
<div class="a" style="left:509px;top:264px;width:50px;height:22px;background:#fdbf2d;"></div>
<div class="t" style="left:509px;top:273px;font-size:6.9px;color:#3b3f45;width:46px;text-align:right;">81</div>
<div class="a" style="left:559px;top:264px;width:50px;height:22px;background:#fdbf2d;"></div>
<div class="t" style="left:559px;top:273px;font-size:6.9px;color:#3b3f45;width:46px;text-align:right;">93</div>
<div class="a" style="left:609px;top:264px;width:50px;height:22px;background:#a0d68c;"></div>
<div class="flag" style="left:610px;top:265px;border-top-color:#f7a623"></div>
<div class="t" style="left:609px;top:273px;font-size:6.9px;color:#3b3f45;width:46px;text-align:right;">85</div>
<div class="a" style="left:659px;top:264px;width:50px;height:22px;background:#a0d68c;"></div>
<div class="t" style="left:659px;top:273px;font-size:6.9px;color:#3b3f45;width:46px;text-align:right;">66</div>
<div class="a" style="left:709px;top:264px;width:51px;height:22px;background:#98cd85;"></div>
<div class="t" style="left:709px;top:273px;font-size:6.9px;color:#3b3f45;width:47px;text-align:right;">69</div>
<div class="a" style="left:760px;top:264px;width:50px;height:22px;background:#9adff6;"></div>
<div class="a" style="left:810px;top:264px;width:50px;height:22px;background:#9adff6;"></div>
<div class="a" style="left:860px;top:264px;width:50px;height:22px;background:#9adff6;"></div>
<div class="a" style="left:309px;top:286px;width:49px;height:21px;background:#f4b82f;"></div>
<div class="flag" style="left:309px;top:287px;border-top-color:#f5604b"></div>
<div class="t" style="left:308px;top:295px;font-size:6.9px;color:#3b3f45;width:46px;text-align:right;">20</div>
<div class="a" style="left:358px;top:286px;width:50px;height:21px;background:#f4b82f;"></div>
<div class="flag" style="left:359px;top:287px;border-top-color:#f5604b"></div>
<div class="t" style="left:358px;top:295px;font-size:6.9px;color:#3b3f45;width:46px;text-align:right;">18</div>
<div class="a" style="left:408px;top:286px;width:51px;height:21px;background:#f4b82f;"></div>
<div class="flag" style="left:409px;top:287px;border-top-color:#f5604b"></div>
<div class="t" style="left:408px;top:295px;font-size:6.9px;color:#3b3f45;width:47px;text-align:right;">19</div>
<div class="a" style="left:459px;top:286px;width:50px;height:21px;background:#ea6a5c;"></div>
<div class="t" style="left:459px;top:295px;font-size:6.9px;color:#3b3f45;width:46px;text-align:right;">18</div>
<div class="a" style="left:509px;top:286px;width:50px;height:21px;background:#f4b82f;"></div>
<div class="flag" style="left:510px;top:287px;border-top-color:#f5604b"></div>
<div class="t" style="left:509px;top:295px;font-size:6.9px;color:#3b3f45;width:46px;text-align:right;">16</div>
<div class="a" style="left:559px;top:286px;width:50px;height:21px;background:#f4b82f;"></div>
<div class="flag" style="left:560px;top:287px;border-top-color:#f5604b"></div>
<div class="t" style="left:559px;top:295px;font-size:6.9px;color:#3b3f45;width:46px;text-align:right;">19</div>
<div class="a" style="left:609px;top:286px;width:50px;height:21px;background:#98cd85;"></div>
<div class="flag" style="left:610px;top:287px;border-top-color:#f5604b"></div>
<div class="t" style="left:609px;top:295px;font-size:6.9px;color:#3b3f45;width:46px;text-align:right;">17</div>
<div class="a" style="left:659px;top:286px;width:50px;height:21px;background:#98cd85;"></div>
<div class="flag" style="left:660px;top:287px;border-top-color:#f5604b"></div>
<div class="t" style="left:659px;top:295px;font-size:6.9px;color:#3b3f45;width:46px;text-align:right;">17</div>
<div class="a" style="left:709px;top:286px;width:51px;height:21px;background:#93c880;"></div>
<div class="flag" style="left:710px;top:287px;border-top-color:#f5604b"></div>
<div class="t" style="left:709px;top:295px;font-size:6.9px;color:#3b3f45;width:47px;text-align:right;">26</div>
<div class="a" style="left:760px;top:286px;width:50px;height:21px;background:#98cd85;"></div>
<div class="flag" style="left:761px;top:287px;border-top-color:#f5604b"></div>
<div class="t" style="left:760px;top:295px;font-size:6.9px;color:#3b3f45;width:46px;text-align:right;">28</div>
<div class="a" style="left:810px;top:286px;width:50px;height:21px;background:#98cd85;"></div>
<div class="flag" style="left:811px;top:287px;border-top-color:#f5604b"></div>
<div class="t" style="left:810px;top:295px;font-size:6.9px;color:#3b3f45;width:46px;text-align:right;">25</div>
<div class="a" style="left:860px;top:286px;width:50px;height:21px;background:#98cd85;"></div>
<div class="flag" style="left:861px;top:287px;border-top-color:#f5604b"></div>
<div class="t" style="left:860px;top:295px;font-size:6.9px;color:#3b3f45;width:46px;text-align:right;">24</div>
<div class="a" style="left:309px;top:307px;width:49px;height:22px;background:#fdbf2d;"></div>
<div class="t" style="left:308px;top:316px;font-size:6.9px;color:#3b3f45;width:46px;text-align:right;">2</div>
<div class="a" style="left:358px;top:307px;width:50px;height:22px;background:#fdbf2d;"></div>
<div class="t" style="left:358px;top:316px;font-size:6.9px;color:#3b3f45;width:46px;text-align:right;">2</div>
<div class="a" style="left:408px;top:307px;width:51px;height:22px;background:#fdbf2d;"></div>
<div class="t" style="left:408px;top:316px;font-size:6.9px;color:#3b3f45;width:47px;text-align:right;">2</div>
<div class="a" style="left:459px;top:307px;width:50px;height:22px;background:#f46e5f;"></div>
<div class="t" style="left:459px;top:316px;font-size:6.9px;color:#3b3f45;width:46px;text-align:right;">2</div>
<div class="a" style="left:509px;top:307px;width:50px;height:22px;background:#fdbf2d;"></div>
<div class="t" style="left:509px;top:316px;font-size:6.9px;color:#3b3f45;width:46px;text-align:right;">2</div>
<div class="a" style="left:559px;top:307px;width:50px;height:22px;background:#fdbf2d;"></div>
<div class="t" style="left:559px;top:316px;font-size:6.9px;color:#3b3f45;width:46px;text-align:right;">2</div>
<div class="a" style="left:609px;top:307px;width:50px;height:22px;background:#a0d68c;"></div>
<div class="t" style="left:609px;top:316px;font-size:6.9px;color:#3b3f45;width:46px;text-align:right;">2</div>
<div class="a" style="left:659px;top:307px;width:50px;height:22px;background:#a0d68c;"></div>
<div class="t" style="left:659px;top:316px;font-size:6.9px;color:#3b3f45;width:46px;text-align:right;">1</div>
<div class="a" style="left:709px;top:307px;width:51px;height:22px;background:#98cd85;"></div>
<div class="a" style="left:760px;top:307px;width:50px;height:22px;background:#9adff6;"></div>
<div class="a" style="left:810px;top:307px;width:50px;height:22px;background:#9adff6;"></div>
<div class="a" style="left:860px;top:307px;width:50px;height:22px;background:#9adff6;"></div>
<div class="a" style="left:309px;top:329px;width:49px;height:21px;background:#9adff6;"></div>
<div class="a" style="left:358px;top:329px;width:50px;height:21px;background:#fdbf2d;"></div>
<div class="flag" style="left:359px;top:330px;border-top-color:#f5604b"></div>
<div class="t" style="left:358px;top:338px;font-size:6.9px;color:#3b3f45;width:46px;text-align:right;">13</div>
<div class="a" style="left:408px;top:329px;width:51px;height:21px;background:#fdbf2d;"></div>
<div class="flag" style="left:409px;top:330px;border-top-color:#f5604b"></div>
<div class="t" style="left:408px;top:338px;font-size:6.9px;color:#3b3f45;width:47px;text-align:right;">16</div>
<div class="a" style="left:459px;top:329px;width:50px;height:21px;background:#f46e5f;"></div>
<div class="t" style="left:459px;top:338px;font-size:6.9px;color:#3b3f45;width:46px;text-align:right;">17</div>
<div class="a" style="left:509px;top:329px;width:50px;height:21px;background:#9adff6;"></div>
<div class="a" style="left:559px;top:329px;width:50px;height:21px;background:#9adff6;"></div>
<div class="a" style="left:609px;top:329px;width:50px;height:21px;background:#9adff6;"></div>
<div class="a" style="left:659px;top:329px;width:50px;height:21px;background:#9adff6;"></div>
<div class="a" style="left:709px;top:329px;width:51px;height:21px;background:#9adff6;"></div>
<div class="a" style="left:760px;top:329px;width:50px;height:21px;background:#9adff6;"></div>
<div class="a" style="left:810px;top:329px;width:50px;height:21px;background:#9adff6;"></div>
<div class="a" style="left:860px;top:329px;width:50px;height:21px;background:#9adff6;"></div>
<div class="a" style="left:309px;top:350px;width:50px;height:1px;background:#eceef1;"></div>
<div class="a" style="left:309px;top:351px;width:49px;height:21px;background:#f5f6f8;"></div>
<div class="inp" style="left:312.8px;top:353.8px;width:41.4px;height:14.8px"></div>
<div class="a" style="left:359px;top:350px;width:50px;height:1px;background:#eceef1;"></div>
<div class="a" style="left:358px;top:351px;width:1px;height:21px;background:#eceef1;"></div>
<div class="a" style="left:359px;top:351px;width:49px;height:21px;background:#f5f6f8;"></div>
<div class="inp" style="left:362.8px;top:353.8px;width:41.4px;height:14.8px"></div>
<div class="a" style="left:409px;top:350px;width:51px;height:1px;background:#eceef1;"></div>
<div class="a" style="left:408px;top:351px;width:1px;height:21px;background:#eceef1;"></div>
<div class="a" style="left:409px;top:351px;width:50px;height:21px;background:#f5f6f8;"></div>
<div class="inp" style="left:412.8px;top:353.8px;width:42.4px;height:14.8px"></div>
<div class="t" style="left:408px;top:359px;font-size:6.9px;color:#3b3f45;width:42px;text-align:right;">4</div>
<div class="a" style="left:460px;top:350px;width:50px;height:1px;background:#eceef1;"></div>
<div class="a" style="left:459px;top:351px;width:1px;height:21px;background:#eceef1;"></div>
<div class="a" style="left:460px;top:351px;width:49px;height:21px;background:#f5f6f8;"></div>
<div class="inp" style="left:463.8px;top:353.8px;width:41.4px;height:14.8px"></div>
<div class="t" style="left:459px;top:359px;font-size:6.9px;color:#3b3f45;width:41px;text-align:right;">4</div>
<div class="a" style="left:510px;top:350px;width:50px;height:1px;background:#eceef1;"></div>
<div class="a" style="left:509px;top:351px;width:1px;height:21px;background:#eceef1;"></div>
<div class="a" style="left:510px;top:351px;width:49px;height:21px;background:#f5f6f8;"></div>
<div class="inp" style="left:513.8px;top:353.8px;width:41.4px;height:14.8px"></div>
<div class="a" style="left:560px;top:350px;width:50px;height:1px;background:#eceef1;"></div>
<div class="a" style="left:559px;top:351px;width:1px;height:21px;background:#eceef1;"></div>
<div class="a" style="left:560px;top:351px;width:49px;height:21px;background:#f5f6f8;"></div>
<div class="inp" style="left:563.8px;top:353.8px;width:41.4px;height:14.8px"></div>
<div class="a" style="left:610px;top:350px;width:50px;height:1px;background:#eceef1;"></div>
<div class="a" style="left:609px;top:351px;width:1px;height:21px;background:#eceef1;"></div>
<div class="a" style="left:610px;top:351px;width:49px;height:21px;background:#f5f6f8;"></div>
<div class="inp" style="left:613.8px;top:353.8px;width:41.4px;height:14.8px"></div>
<div class="a" style="left:660px;top:350px;width:50px;height:1px;background:#eceef1;"></div>
<div class="a" style="left:659px;top:351px;width:1px;height:21px;background:#eceef1;"></div>
<div class="a" style="left:660px;top:351px;width:49px;height:21px;background:#f5f6f8;"></div>
<div class="inp" style="left:663.8px;top:353.8px;width:41.4px;height:14.8px"></div>
<div class="a" style="left:710px;top:350px;width:51px;height:1px;background:#eceef1;"></div>
<div class="a" style="left:709px;top:351px;width:1px;height:21px;background:#eceef1;"></div>
<div class="a" style="left:710px;top:351px;width:50px;height:21px;background:#eceff2;"></div>
<div class="inp" style="left:713.8px;top:353.8px;width:42.4px;height:14.8px"></div>
<div class="a" style="left:761px;top:350px;width:50px;height:1px;background:#eceef1;"></div>
<div class="a" style="left:760px;top:351px;width:1px;height:21px;background:#eceef1;"></div>
<div class="a" style="left:761px;top:351px;width:49px;height:21px;background:#f5f6f8;"></div>
<div class="inp" style="left:764.8px;top:353.8px;width:41.4px;height:14.8px"></div>
<div class="a" style="left:811px;top:350px;width:50px;height:1px;background:#eceef1;"></div>
<div class="a" style="left:810px;top:351px;width:1px;height:21px;background:#eceef1;"></div>
<div class="a" style="left:811px;top:351px;width:49px;height:21px;background:#f5f6f8;"></div>
<div class="inp" style="left:814.8px;top:353.8px;width:41.4px;height:14.8px"></div>
<div class="a" style="left:861px;top:350px;width:50px;height:1px;background:#eceef1;"></div>
<div class="a" style="left:860px;top:351px;width:1px;height:21px;background:#eceef1;"></div>
<div class="a" style="left:861px;top:351px;width:50px;height:21px;background:#f5f6f8;"></div>
<div class="inp" style="left:864.8px;top:353.8px;width:41.4px;height:14.8px"></div>
<div class="a" style="left:309px;top:372px;width:50px;height:1px;background:#eceef1;"></div>
<div class="a" style="left:309px;top:373px;width:49px;height:20px;background:#fff;"></div>
<div class="inp" style="left:312.8px;top:375.8px;width:41.4px;height:14.8px"></div>
<div class="a" style="left:359px;top:372px;width:50px;height:1px;background:#eceef1;"></div>
<div class="a" style="left:358px;top:373px;width:1px;height:20px;background:#eceef1;"></div>
<div class="a" style="left:359px;top:373px;width:49px;height:20px;background:#fff;"></div>
<div class="inp" style="left:362.8px;top:375.8px;width:41.4px;height:14.8px"></div>
<div class="t" style="left:358px;top:381px;font-size:6.9px;color:#3b3f45;width:41px;text-align:right;">13</div>
<div class="a" style="left:409px;top:372px;width:51px;height:1px;background:#eceef1;"></div>
<div class="a" style="left:408px;top:373px;width:1px;height:20px;background:#eceef1;"></div>
<div class="a" style="left:409px;top:373px;width:50px;height:20px;background:#fff;"></div>
<div class="inp" style="left:412.8px;top:375.8px;width:42.4px;height:14.8px"></div>
<div class="t" style="left:408px;top:381px;font-size:6.9px;color:#3b3f45;width:42px;text-align:right;">12</div>
<div class="a" style="left:460px;top:372px;width:50px;height:1px;background:#eceef1;"></div>
<div class="a" style="left:459px;top:373px;width:1px;height:20px;background:#eceef1;"></div>
<div class="a" style="left:460px;top:373px;width:49px;height:20px;background:#fff;"></div>
<div class="inp" style="left:463.8px;top:375.8px;width:41.4px;height:14.8px"></div>
<div class="t" style="left:459px;top:381px;font-size:6.9px;color:#3b3f45;width:41px;text-align:right;">13</div>
<div class="a" style="left:510px;top:372px;width:50px;height:1px;background:#eceef1;"></div>
<div class="a" style="left:509px;top:373px;width:1px;height:20px;background:#eceef1;"></div>
<div class="a" style="left:510px;top:373px;width:49px;height:20px;background:#fff;"></div>
<div class="inp" style="left:513.8px;top:375.8px;width:41.4px;height:14.8px"></div>
<div class="a" style="left:560px;top:372px;width:50px;height:1px;background:#eceef1;"></div>
<div class="a" style="left:559px;top:373px;width:1px;height:20px;background:#eceef1;"></div>
<div class="a" style="left:560px;top:373px;width:49px;height:20px;background:#fff;"></div>
<div class="inp" style="left:563.8px;top:375.8px;width:41.4px;height:14.8px"></div>
<div class="a" style="left:610px;top:372px;width:50px;height:1px;background:#eceef1;"></div>
<div class="a" style="left:609px;top:373px;width:1px;height:20px;background:#eceef1;"></div>
<div class="a" style="left:610px;top:373px;width:49px;height:20px;background:#fff;"></div>
<div class="inp" style="left:613.8px;top:375.8px;width:41.4px;height:14.8px"></div>
<div class="a" style="left:660px;top:372px;width:50px;height:1px;background:#eceef1;"></div>
<div class="a" style="left:659px;top:373px;width:1px;height:20px;background:#eceef1;"></div>
<div class="a" style="left:660px;top:373px;width:49px;height:20px;background:#fff;"></div>
<div class="inp" style="left:663.8px;top:375.8px;width:41.4px;height:14.8px"></div>
<div class="a" style="left:710px;top:372px;width:51px;height:1px;background:#eceef1;"></div>
<div class="a" style="left:709px;top:373px;width:1px;height:20px;background:#eceef1;"></div>
<div class="a" style="left:710px;top:373px;width:50px;height:20px;background:#f5f6f8;"></div>
<div class="inp" style="left:713.8px;top:375.8px;width:42.4px;height:14.8px"></div>
<div class="a" style="left:761px;top:372px;width:50px;height:1px;background:#eceef1;"></div>
<div class="a" style="left:760px;top:373px;width:1px;height:20px;background:#eceef1;"></div>
<div class="a" style="left:761px;top:373px;width:49px;height:20px;background:#fff;"></div>
<div class="inp" style="left:764.8px;top:375.8px;width:41.4px;height:14.8px"></div>
<div class="a" style="left:811px;top:372px;width:50px;height:1px;background:#eceef1;"></div>
<div class="a" style="left:810px;top:373px;width:1px;height:20px;background:#eceef1;"></div>
<div class="a" style="left:811px;top:373px;width:49px;height:20px;background:#fff;"></div>
<div class="inp" style="left:814.8px;top:375.8px;width:41.4px;height:14.8px"></div>
<div class="a" style="left:861px;top:372px;width:50px;height:1px;background:#eceef1;"></div>
<div class="a" style="left:860px;top:373px;width:1px;height:20px;background:#eceef1;"></div>
<div class="a" style="left:861px;top:373px;width:50px;height:20px;background:#fff;"></div>
<div class="inp" style="left:864.8px;top:375.8px;width:41.4px;height:14.8px"></div>
<div class="a" style="left:309px;top:393px;width:49px;height:22px;background:#fdbf2d;"></div>
<div class="t" style="left:308px;top:402px;font-size:6.9px;color:#3b3f45;width:46px;text-align:right;">1</div>
<div class="a" style="left:358px;top:393px;width:50px;height:22px;background:#f5f6f8;"></div>
<div class="a" style="left:408px;top:393px;width:51px;height:22px;background:#f5f6f8;"></div>
<div class="a" style="left:459px;top:393px;width:50px;height:22px;background:#f5f6f8;"></div>
<div class="a" style="left:509px;top:393px;width:50px;height:22px;background:#f5f6f8;"></div>
<div class="a" style="left:559px;top:393px;width:50px;height:22px;background:#f5f6f8;"></div>
<div class="a" style="left:609px;top:393px;width:50px;height:22px;background:#f5f6f8;"></div>
<div class="a" style="left:659px;top:393px;width:50px;height:22px;background:#f5f6f8;"></div>
<div class="a" style="left:709px;top:393px;width:51px;height:22px;background:#edf0f3;"></div>
<div class="a" style="left:760px;top:393px;width:50px;height:22px;background:#f5f6f8;"></div>
<div class="a" style="left:810px;top:393px;width:50px;height:22px;background:#f5f6f8;"></div>
<div class="a" style="left:860px;top:393px;width:50px;height:22px;background:#f5f6f8;"></div>
<div class="a" style="left:309px;top:221px;width:50px;height:1px;background:rgba(255,255,255,.45);"></div>
<div class="a" style="left:358px;top:221px;width:50px;height:1px;background:rgba(255,255,255,.45);"></div>
<div class="a" style="left:358px;top:221px;width:1px;height:22px;background:rgba(255,255,255,.45);"></div>
<div class="a" style="left:408px;top:221px;width:51px;height:1px;background:rgba(255,255,255,.45);"></div>
<div class="a" style="left:408px;top:221px;width:1px;height:22px;background:rgba(255,255,255,.45);"></div>
<div class="a" style="left:459px;top:221px;width:50px;height:1px;background:rgba(255,255,255,.45);"></div>
<div class="a" style="left:459px;top:221px;width:1px;height:22px;background:rgba(255,255,255,.45);"></div>
<div class="a" style="left:509px;top:221px;width:50px;height:1px;background:rgba(255,255,255,.45);"></div>
<div class="a" style="left:509px;top:221px;width:1px;height:22px;background:rgba(255,255,255,.45);"></div>
<div class="a" style="left:559px;top:221px;width:50px;height:1px;background:rgba(255,255,255,.45);"></div>
<div class="a" style="left:559px;top:221px;width:1px;height:22px;background:rgba(255,255,255,.45);"></div>
<div class="a" style="left:609px;top:221px;width:50px;height:1px;background:rgba(255,255,255,.45);"></div>
<div class="a" style="left:609px;top:221px;width:1px;height:22px;background:rgba(255,255,255,.45);"></div>
<div class="a" style="left:659px;top:221px;width:50px;height:1px;background:rgba(255,255,255,.45);"></div>
<div class="a" style="left:659px;top:221px;width:1px;height:22px;background:rgba(255,255,255,.45);"></div>
<div class="a" style="left:709px;top:221px;width:51px;height:1px;background:rgba(255,255,255,.45);"></div>
<div class="a" style="left:709px;top:221px;width:1px;height:22px;background:rgba(255,255,255,.45);"></div>
<div class="a" style="left:760px;top:221px;width:50px;height:1px;background:#eceef1;"></div>
<div class="a" style="left:760px;top:221px;width:1px;height:22px;background:#eceef1;"></div>
<div class="a" style="left:810px;top:221px;width:50px;height:1px;background:#eceef1;"></div>
<div class="a" style="left:810px;top:221px;width:1px;height:22px;background:#eceef1;"></div>
<div class="a" style="left:860px;top:221px;width:50px;height:1px;background:#eceef1;"></div>
<div class="a" style="left:860px;top:221px;width:1px;height:22px;background:#eceef1;"></div>
<div class="a" style="left:309px;top:243px;width:50px;height:1px;background:rgba(255,255,255,.45);"></div>
<div class="a" style="left:358px;top:243px;width:50px;height:1px;background:rgba(255,255,255,.45);"></div>
<div class="a" style="left:358px;top:243px;width:1px;height:21px;background:rgba(255,255,255,.45);"></div>
<div class="a" style="left:408px;top:243px;width:51px;height:1px;background:rgba(255,255,255,.45);"></div>
<div class="a" style="left:408px;top:243px;width:1px;height:21px;background:rgba(255,255,255,.45);"></div>
<div class="a" style="left:459px;top:243px;width:50px;height:1px;background:rgba(255,255,255,.45);"></div>
<div class="a" style="left:459px;top:243px;width:1px;height:21px;background:rgba(255,255,255,.45);"></div>
<div class="a" style="left:509px;top:243px;width:50px;height:1px;background:rgba(255,255,255,.45);"></div>
<div class="a" style="left:509px;top:243px;width:1px;height:21px;background:rgba(255,255,255,.45);"></div>
<div class="a" style="left:559px;top:243px;width:50px;height:1px;background:rgba(255,255,255,.45);"></div>
<div class="a" style="left:559px;top:243px;width:1px;height:21px;background:rgba(255,255,255,.45);"></div>
<div class="a" style="left:609px;top:243px;width:50px;height:1px;background:rgba(255,255,255,.45);"></div>
<div class="a" style="left:609px;top:243px;width:1px;height:21px;background:rgba(255,255,255,.45);"></div>
<div class="a" style="left:659px;top:243px;width:50px;height:1px;background:rgba(255,255,255,.45);"></div>
<div class="a" style="left:659px;top:243px;width:1px;height:21px;background:rgba(255,255,255,.45);"></div>
<div class="a" style="left:709px;top:243px;width:51px;height:1px;background:rgba(255,255,255,.45);"></div>
<div class="a" style="left:709px;top:243px;width:1px;height:21px;background:rgba(255,255,255,.45);"></div>
<div class="a" style="left:760px;top:243px;width:50px;height:1px;background:rgba(255,255,255,.45);"></div>
<div class="a" style="left:760px;top:243px;width:1px;height:21px;background:rgba(255,255,255,.45);"></div>
<div class="a" style="left:810px;top:243px;width:50px;height:1px;background:rgba(255,255,255,.45);"></div>
<div class="a" style="left:810px;top:243px;width:1px;height:21px;background:rgba(255,255,255,.45);"></div>
<div class="a" style="left:860px;top:243px;width:50px;height:1px;background:rgba(255,255,255,.45);"></div>
<div class="a" style="left:860px;top:243px;width:1px;height:21px;background:rgba(255,255,255,.45);"></div>
<div class="a" style="left:309px;top:264px;width:50px;height:1px;background:rgba(255,255,255,.45);"></div>
<div class="a" style="left:358px;top:264px;width:50px;height:1px;background:rgba(255,255,255,.45);"></div>
<div class="a" style="left:358px;top:264px;width:1px;height:22px;background:rgba(255,255,255,.45);"></div>
<div class="a" style="left:408px;top:264px;width:51px;height:1px;background:rgba(255,255,255,.45);"></div>
<div class="a" style="left:408px;top:264px;width:1px;height:22px;background:rgba(255,255,255,.45);"></div>
<div class="a" style="left:459px;top:264px;width:50px;height:1px;background:rgba(255,255,255,.45);"></div>
<div class="a" style="left:459px;top:264px;width:1px;height:22px;background:rgba(255,255,255,.45);"></div>
<div class="a" style="left:509px;top:264px;width:50px;height:1px;background:rgba(255,255,255,.45);"></div>
<div class="a" style="left:509px;top:264px;width:1px;height:22px;background:rgba(255,255,255,.45);"></div>
<div class="a" style="left:559px;top:264px;width:50px;height:1px;background:rgba(255,255,255,.45);"></div>
<div class="a" style="left:559px;top:264px;width:1px;height:22px;background:rgba(255,255,255,.45);"></div>
<div class="a" style="left:609px;top:264px;width:50px;height:1px;background:rgba(255,255,255,.45);"></div>
<div class="a" style="left:609px;top:264px;width:1px;height:22px;background:rgba(255,255,255,.45);"></div>
<div class="a" style="left:659px;top:264px;width:50px;height:1px;background:rgba(255,255,255,.45);"></div>
<div class="a" style="left:659px;top:264px;width:1px;height:22px;background:rgba(255,255,255,.45);"></div>
<div class="a" style="left:709px;top:264px;width:51px;height:1px;background:rgba(255,255,255,.45);"></div>
<div class="a" style="left:709px;top:264px;width:1px;height:22px;background:rgba(255,255,255,.45);"></div>
<div class="a" style="left:760px;top:264px;width:50px;height:1px;background:rgba(255,255,255,.45);"></div>
<div class="a" style="left:760px;top:264px;width:1px;height:22px;background:rgba(255,255,255,.45);"></div>
<div class="a" style="left:810px;top:264px;width:50px;height:1px;background:rgba(255,255,255,.45);"></div>
<div class="a" style="left:810px;top:264px;width:1px;height:22px;background:rgba(255,255,255,.45);"></div>
<div class="a" style="left:860px;top:264px;width:50px;height:1px;background:rgba(255,255,255,.45);"></div>
<div class="a" style="left:860px;top:264px;width:1px;height:22px;background:rgba(255,255,255,.45);"></div>
<div class="a" style="left:309px;top:286px;width:50px;height:1px;background:rgba(255,255,255,.45);"></div>
<div class="a" style="left:358px;top:286px;width:50px;height:1px;background:rgba(255,255,255,.45);"></div>
<div class="a" style="left:358px;top:286px;width:1px;height:21px;background:rgba(255,255,255,.45);"></div>
<div class="a" style="left:408px;top:286px;width:51px;height:1px;background:rgba(255,255,255,.45);"></div>
<div class="a" style="left:408px;top:286px;width:1px;height:21px;background:rgba(255,255,255,.45);"></div>
<div class="a" style="left:459px;top:286px;width:50px;height:1px;background:rgba(255,255,255,.45);"></div>
<div class="a" style="left:459px;top:286px;width:1px;height:21px;background:rgba(255,255,255,.45);"></div>
<div class="a" style="left:509px;top:286px;width:50px;height:1px;background:rgba(255,255,255,.45);"></div>
<div class="a" style="left:509px;top:286px;width:1px;height:21px;background:rgba(255,255,255,.45);"></div>
<div class="a" style="left:559px;top:286px;width:50px;height:1px;background:rgba(255,255,255,.45);"></div>
<div class="a" style="left:559px;top:286px;width:1px;height:21px;background:rgba(255,255,255,.45);"></div>
<div class="a" style="left:609px;top:286px;width:50px;height:1px;background:rgba(255,255,255,.45);"></div>
<div class="a" style="left:609px;top:286px;width:1px;height:21px;background:rgba(255,255,255,.45);"></div>
<div class="a" style="left:659px;top:286px;width:50px;height:1px;background:rgba(255,255,255,.45);"></div>
<div class="a" style="left:659px;top:286px;width:1px;height:21px;background:rgba(255,255,255,.45);"></div>
<div class="a" style="left:709px;top:286px;width:51px;height:1px;background:rgba(255,255,255,.45);"></div>
<div class="a" style="left:709px;top:286px;width:1px;height:21px;background:rgba(255,255,255,.45);"></div>
<div class="a" style="left:760px;top:286px;width:50px;height:1px;background:rgba(255,255,255,.45);"></div>
<div class="a" style="left:760px;top:286px;width:1px;height:21px;background:rgba(255,255,255,.45);"></div>
<div class="a" style="left:810px;top:286px;width:50px;height:1px;background:rgba(255,255,255,.45);"></div>
<div class="a" style="left:810px;top:286px;width:1px;height:21px;background:rgba(255,255,255,.45);"></div>
<div class="a" style="left:860px;top:286px;width:50px;height:1px;background:rgba(255,255,255,.45);"></div>
<div class="a" style="left:860px;top:286px;width:1px;height:21px;background:rgba(255,255,255,.45);"></div>
<div class="a" style="left:309px;top:307px;width:50px;height:1px;background:rgba(255,255,255,.45);"></div>
<div class="a" style="left:358px;top:307px;width:50px;height:1px;background:rgba(255,255,255,.45);"></div>
<div class="a" style="left:358px;top:307px;width:1px;height:22px;background:rgba(255,255,255,.45);"></div>
<div class="a" style="left:408px;top:307px;width:51px;height:1px;background:rgba(255,255,255,.45);"></div>
<div class="a" style="left:408px;top:307px;width:1px;height:22px;background:rgba(255,255,255,.45);"></div>
<div class="a" style="left:459px;top:307px;width:50px;height:1px;background:rgba(255,255,255,.45);"></div>
<div class="a" style="left:459px;top:307px;width:1px;height:22px;background:rgba(255,255,255,.45);"></div>
<div class="a" style="left:509px;top:307px;width:50px;height:1px;background:rgba(255,255,255,.45);"></div>
<div class="a" style="left:509px;top:307px;width:1px;height:22px;background:rgba(255,255,255,.45);"></div>
<div class="a" style="left:559px;top:307px;width:50px;height:1px;background:rgba(255,255,255,.45);"></div>
<div class="a" style="left:559px;top:307px;width:1px;height:22px;background:rgba(255,255,255,.45);"></div>
<div class="a" style="left:609px;top:307px;width:50px;height:1px;background:rgba(255,255,255,.45);"></div>
<div class="a" style="left:609px;top:307px;width:1px;height:22px;background:rgba(255,255,255,.45);"></div>
<div class="a" style="left:659px;top:307px;width:50px;height:1px;background:rgba(255,255,255,.45);"></div>
<div class="a" style="left:659px;top:307px;width:1px;height:22px;background:rgba(255,255,255,.45);"></div>
<div class="a" style="left:709px;top:307px;width:51px;height:1px;background:rgba(255,255,255,.45);"></div>
<div class="a" style="left:709px;top:307px;width:1px;height:22px;background:rgba(255,255,255,.45);"></div>
<div class="a" style="left:760px;top:307px;width:50px;height:1px;background:rgba(255,255,255,.45);"></div>
<div class="a" style="left:760px;top:307px;width:1px;height:22px;background:rgba(255,255,255,.45);"></div>
<div class="a" style="left:810px;top:307px;width:50px;height:1px;background:rgba(255,255,255,.45);"></div>
<div class="a" style="left:810px;top:307px;width:1px;height:22px;background:rgba(255,255,255,.45);"></div>
<div class="a" style="left:860px;top:307px;width:50px;height:1px;background:rgba(255,255,255,.45);"></div>
<div class="a" style="left:860px;top:307px;width:1px;height:22px;background:rgba(255,255,255,.45);"></div>
<div class="a" style="left:309px;top:329px;width:50px;height:1px;background:rgba(255,255,255,.45);"></div>
<div class="a" style="left:358px;top:329px;width:50px;height:1px;background:rgba(255,255,255,.45);"></div>
<div class="a" style="left:358px;top:329px;width:1px;height:21px;background:rgba(255,255,255,.45);"></div>
<div class="a" style="left:408px;top:329px;width:51px;height:1px;background:rgba(255,255,255,.45);"></div>
<div class="a" style="left:408px;top:329px;width:1px;height:21px;background:rgba(255,255,255,.45);"></div>
<div class="a" style="left:459px;top:329px;width:50px;height:1px;background:rgba(255,255,255,.45);"></div>
<div class="a" style="left:459px;top:329px;width:1px;height:21px;background:rgba(255,255,255,.45);"></div>
<div class="a" style="left:509px;top:329px;width:50px;height:1px;background:rgba(255,255,255,.45);"></div>
<div class="a" style="left:509px;top:329px;width:1px;height:21px;background:rgba(255,255,255,.45);"></div>
<div class="a" style="left:559px;top:329px;width:50px;height:1px;background:rgba(255,255,255,.45);"></div>
<div class="a" style="left:559px;top:329px;width:1px;height:21px;background:rgba(255,255,255,.45);"></div>
<div class="a" style="left:609px;top:329px;width:50px;height:1px;background:rgba(255,255,255,.45);"></div>
<div class="a" style="left:609px;top:329px;width:1px;height:21px;background:rgba(255,255,255,.45);"></div>
<div class="a" style="left:659px;top:329px;width:50px;height:1px;background:rgba(255,255,255,.45);"></div>
<div class="a" style="left:659px;top:329px;width:1px;height:21px;background:rgba(255,255,255,.45);"></div>
<div class="a" style="left:709px;top:329px;width:51px;height:1px;background:rgba(255,255,255,.45);"></div>
<div class="a" style="left:709px;top:329px;width:1px;height:21px;background:rgba(255,255,255,.45);"></div>
<div class="a" style="left:760px;top:329px;width:50px;height:1px;background:rgba(255,255,255,.45);"></div>
<div class="a" style="left:760px;top:329px;width:1px;height:21px;background:rgba(255,255,255,.45);"></div>
<div class="a" style="left:810px;top:329px;width:50px;height:1px;background:rgba(255,255,255,.45);"></div>
<div class="a" style="left:810px;top:329px;width:1px;height:21px;background:rgba(255,255,255,.45);"></div>
<div class="a" style="left:860px;top:329px;width:50px;height:1px;background:rgba(255,255,255,.45);"></div>
<div class="a" style="left:860px;top:329px;width:1px;height:21px;background:rgba(255,255,255,.45);"></div>
<div class="a" style="left:309px;top:393px;width:50px;height:1px;background:rgba(255,255,255,.45);"></div>
<div class="a" style="left:358px;top:393px;width:50px;height:1px;background:#eceef1;"></div>
<div class="a" style="left:358px;top:393px;width:1px;height:22px;background:#eceef1;"></div>
<div class="a" style="left:408px;top:393px;width:51px;height:1px;background:#eceef1;"></div>
<div class="a" style="left:408px;top:393px;width:1px;height:22px;background:#eceef1;"></div>
<div class="a" style="left:459px;top:393px;width:50px;height:1px;background:#eceef1;"></div>
<div class="a" style="left:459px;top:393px;width:1px;height:22px;background:#eceef1;"></div>
<div class="a" style="left:509px;top:393px;width:50px;height:1px;background:#eceef1;"></div>
<div class="a" style="left:509px;top:393px;width:1px;height:22px;background:#eceef1;"></div>
<div class="a" style="left:559px;top:393px;width:50px;height:1px;background:#eceef1;"></div>
<div class="a" style="left:559px;top:393px;width:1px;height:22px;background:#eceef1;"></div>
<div class="a" style="left:609px;top:393px;width:50px;height:1px;background:#eceef1;"></div>
<div class="a" style="left:609px;top:393px;width:1px;height:22px;background:#eceef1;"></div>
<div class="a" style="left:659px;top:393px;width:50px;height:1px;background:#eceef1;"></div>
<div class="a" style="left:659px;top:393px;width:1px;height:22px;background:#eceef1;"></div>
<div class="a" style="left:709px;top:393px;width:51px;height:1px;background:#eceef1;"></div>
<div class="a" style="left:709px;top:393px;width:1px;height:22px;background:#eceef1;"></div>
<div class="a" style="left:760px;top:393px;width:50px;height:1px;background:#eceef1;"></div>
<div class="a" style="left:760px;top:393px;width:1px;height:22px;background:#eceef1;"></div>
<div class="a" style="left:810px;top:393px;width:50px;height:1px;background:#eceef1;"></div>
<div class="a" style="left:810px;top:393px;width:1px;height:22px;background:#eceef1;"></div>
<div class="a" style="left:860px;top:393px;width:50px;height:1px;background:#eceef1;"></div>
<div class="a" style="left:860px;top:393px;width:1px;height:22px;background:#eceef1;"></div>
<div class="a" style="left:309px;top:307px;width:601px;height:1px;background:repeating-linear-gradient(90deg,rgba(50,50,40,.7) 0 1.3px,rgba(50,50,40,.3) 1.3px 2.6px);"></div>
<div class="a" style="left:309px;top:329px;width:601px;height:1px;background:repeating-linear-gradient(90deg,rgba(50,50,40,.7) 0 1.3px,rgba(50,50,40,.3) 1.3px 2.6px);"></div>
<div class="a" style="left:309px;top:350px;width:601px;height:1px;background:repeating-linear-gradient(90deg,rgba(50,50,40,.7) 0 1.3px,rgba(50,50,40,.3) 1.3px 2.6px);"></div>
<div class="a" style="left:309px;top:416px;width:49px;height:43px;background:#eec43b;"></div>
<div class="a" style="left:358px;top:416px;width:50px;height:43px;background:#dac84d;"></div>
<div class="a" style="left:408px;top:416px;width:51px;height:43px;background:#f9a33f;"></div>
<div class="a" style="left:459px;top:416px;width:50px;height:43px;background:#f46e5f;"></div>
<div class="a" style="left:509px;top:416px;width:50px;height:43px;background:#f78c4c;"></div>
<div class="a" style="left:559px;top:416px;width:50px;height:43px;background:#f0c33c;"></div>
<div class="a" style="left:609px;top:416px;width:50px;height:43px;background:#a0d68c;"></div>
<div class="a" style="left:659px;top:416px;width:50px;height:43px;background:#a0d68c;"></div>
<div class="a" style="left:709px;top:416px;width:51px;height:43px;background:#a0d68c;"></div>
<div class="a" style="left:760px;top:416px;width:50px;height:43px;background:#a0d68c;"></div>
<div class="a" style="left:810px;top:416px;width:50px;height:43px;background:#a0d68c;"></div>
<div class="a" style="left:860px;top:416px;width:50px;height:43px;background:#a0d68c;"></div>
<div class="a" style="left:710px;top:416px;width:50px;height:21px;background:#98cd85;"></div>
<div class="a" style="left:709px;top:416px;width:1px;height:21px;background:rgba(255,255,255,.5);"></div>
<div class="a" style="left:760px;top:416px;width:1px;height:21px;background:rgba(255,255,255,.5);"></div>
<div class="t" style="left:308px;top:425px;font-size:6.9px;color:#2f3338;width:46px;text-align:right;">227</div>
<div class="t" style="left:308px;top:446px;font-size:6.9px;color:#2f3338;width:46px;text-align:right;">172</div>
<div class="t" style="left:358px;top:425px;font-size:6.9px;color:#2f3338;width:46px;text-align:right;">212</div>
<div class="t" style="left:358px;top:446px;font-size:6.9px;color:#2f3338;width:46px;text-align:right;">170</div>
<div class="t" style="left:408px;top:425px;font-size:6.9px;color:#2f3338;width:47px;text-align:right;">258</div>
<div class="t" style="left:408px;top:446px;font-size:6.9px;color:#2f3338;width:47px;text-align:right;">162</div>
<div class="t" style="left:459px;top:425px;font-size:6.9px;color:#2f3338;width:46px;text-align:right;">291</div>
<div class="t" style="left:459px;top:446px;font-size:6.9px;color:#2f3338;width:46px;text-align:right;">94</div>
<div class="t" style="left:509px;top:425px;font-size:6.9px;color:#2f3338;width:46px;text-align:right;">221</div>
<div class="t" style="left:509px;top:446px;font-size:6.9px;color:#2f3338;width:46px;text-align:right;">122</div>
<div class="t" style="left:559px;top:425px;font-size:6.9px;color:#2f3338;width:46px;text-align:right;">234</div>
<div class="t" style="left:559px;top:446px;font-size:6.9px;color:#2f3338;width:46px;text-align:right;">186</div>
<div class="t" style="left:609px;top:425px;font-size:6.9px;color:#2f3338;width:46px;text-align:right;">175</div>
<div class="t" style="left:609px;top:446px;font-size:6.9px;color:#2f3338;width:46px;text-align:right;">263</div>
<div class="t" style="left:659px;top:425px;font-size:6.9px;color:#2f3338;width:46px;text-align:right;">153</div>
<div class="t" style="left:659px;top:446px;font-size:6.9px;color:#2f3338;width:46px;text-align:right;">249</div>
<div class="t" style="left:709px;top:425px;font-size:6.9px;color:#2f3338;width:47px;text-align:right;">179</div>
<div class="t" style="left:709px;top:446px;font-size:6.9px;color:#2f3338;width:47px;text-align:right;">242</div>
<div class="t" style="left:760px;top:425px;font-size:6.9px;color:#2f3338;width:46px;text-align:right;">110</div>
<div class="t" style="left:760px;top:446px;font-size:6.9px;color:#2f3338;width:46px;text-align:right;">307</div>
<div class="t" style="left:810px;top:425px;font-size:6.9px;color:#2f3338;width:46px;text-align:right;">105</div>
<div class="t" style="left:810px;top:446px;font-size:6.9px;color:#2f3338;width:46px;text-align:right;">297</div>
<div class="t" style="left:860px;top:425px;font-size:6.9px;color:#2f3338;width:46px;text-align:right;">107</div>
<div class="t" style="left:860px;top:446px;font-size:6.9px;color:#2f3338;width:46px;text-align:right;">299</div>
<div class="a" style="left:713px;top:307.8px;width:145.6px;height:90.5px;background:#fff;border-radius:2.5px;box-shadow:0 0.5px 3.5px rgba(0,0,0,.2)"></div>
<div class="t" style="left:713px;top:317px;font-size:7.7px;color:#33373c;width:145.6px;text-align:center;-webkit-text-stroke:0.3px #33373c">Vision 2030 (Sep 2026)</div>
<div class="t" style="left:719.2px;top:330px;font-size:6.4px;color:#6f7379;">Zeitraum</div>
<div class="t" style="left:770.9px;top:330px;font-size:6.4px;color:#6f7379;">27.04.2025 - 31.12.2029</div>
<div class="t" style="left:719.2px;top:342px;font-size:6.4px;color:#6f7379;">Projektleiter</div>
<div class="t" style="left:770.9px;top:342px;font-size:6.4px;color:#6f7379;">Markus Weber</div>
<div class="t" style="left:719.6px;top:359px;font-size:9.0px;color:#2f3338;-webkit-text-stroke:0.35px #2f3338">Restverfügbarkeit (PT) - Kritisch</div>
<div class="t" style="left:770.9px;top:373px;font-size:6.4px;color:#6f7379;">Mike Hurtig</div>
<div class="t" style="left:770.9px;top:385px;font-size:6.4px;color:#6f7379;">Lea Hoffmann</div>
<div class="t" style="left:830px;top:373px;font-size:6.4px;color:#ef5a4a;width:21.5px;text-align:right;">-1</div>
<div class="t" style="left:830px;top:385px;font-size:6.4px;color:#ef5a4a;width:21.5px;text-align:right;">-1</div></body></html>
